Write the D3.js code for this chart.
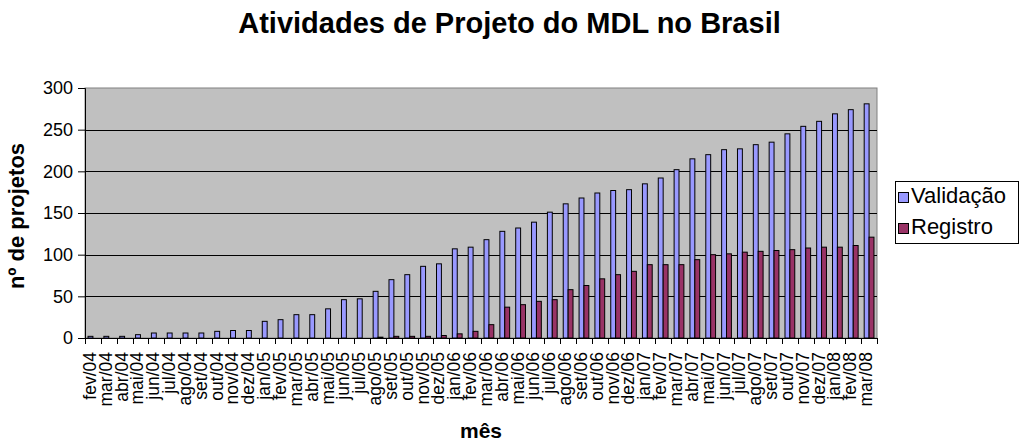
<!DOCTYPE html>
<meta charset="utf-8">
<html>
<head>
  <title>Atividades de Projeto do MDL no Brasil</title>
  <script src="https://cdn.jsdelivr.net/npm/d3@7"></script>
  <style>
    body { margin: 0; background: #fff; }
    svg { display: block; font-family: "Liberation Sans", Arial, sans-serif; }
  </style>
</head>
<body>
  <svg id="svg" width="1019" height="443"></svg>
  <script>
    // months on the x axis
    var months = ["fev/04", "mar/04", "abr/04", "mai/04", "jun/04", "jul/04", "ago/04", "set/04",
      "out/04", "nov/04", "dez/04", "jan/05", "fev/05", "mar/05", "abr/05", "mai/05", "jun/05",
      "jul/05", "ago/05", "set/05", "out/05", "nov/05", "dez/05", "jan/06", "fev/06", "mar/06",
      "abr/06", "mai/06", "jun/06", "jul/06", "ago/06", "set/06", "out/06", "nov/06", "dez/06",
      "jan/07", "fev/07", "mar/07", "abr/07", "mai/07", "jun/07", "jul/07", "ago/07", "set/07",
      "out/07", "nov/07", "dez/07", "jan/08", "fev/08", "mar/08"];

    // projects in validation (cumulative)
    var validacao = [2, 2, 2, 4, 6, 6, 6, 6, 8, 9, 9, 20, 22, 28, 28, 35, 46, 47, 56, 70, 76, 86, 89,
      107, 109, 118, 128, 132, 139, 151, 161, 168, 174, 177, 178, 185, 192, 202, 215, 220, 226,
      227, 232, 235, 245, 254, 260, 269, 274, 281];

    // registered projects (null = no value that month)
    var registro = [null, null, null, null, null, null, null, null, null, null, null, 0, 0, 0, 0,
      0, 0, 0, 1, 2, 2, 2, 3, 5, 8, 16, 37, 40, 44, 46, 58, 63, 71, 76, 80, 88, 88, 88, 94, 100,
      101, 103, 104, 105, 106, 108, 109, 109, 111, 121];

    var seriesNames = ["Validação", "Registro"];
    var seriesColors = ["#9999ff", "#993366"];
    var yTicks = [0, 50, 100, 150, 200, 250, 300];

    var plot = { left: 85, right: 877, top: 88, bottom: 338 };

    var svg = d3.select("#svg");

    var x = d3.scaleBand()
      .domain(months)
      .range([plot.left, plot.right])
      .padding(0);

    var xSub = d3.scaleBand()
      .domain(seriesNames)
      .range([0, x.bandwidth()])
      .paddingInner(0)
      .paddingOuter(0.62);

    var y = d3.scaleLinear()
      .domain([0, 300])
      .range([plot.bottom, plot.top]);

    // plot area background
    svg.append("rect")
      .attr("x", plot.left)
      .attr("y", plot.top)
      .attr("width", plot.right - plot.left)
      .attr("height", plot.bottom - plot.top)
      .attr("fill", "#c0c0c0")
      .attr("stroke", "#808080")
      .attr("stroke-width", 1);

    // gridlines
    svg.append("g")
      .selectAll("line")
      .data(yTicks.filter(function (t) { return t > 0 && t < 300; }))
      .enter()
      .append("line")
      .attr("x1", plot.left)
      .attr("x2", plot.right)
      .attr("y1", function (d) { return Math.round(y(d)) + 0.5; })
      .attr("y2", function (d) { return Math.round(y(d)) + 0.5; })
      .attr("stroke", "#000")
      .attr("stroke-width", 1);

    // bars
    var rows = months.map(function (m, i) {
      return { month: m, values: [validacao[i], registro[i]] };
    });

    var groups = svg.append("g")
      .selectAll("g")
      .data(rows)
      .enter()
      .append("g")
      .attr("transform", function (d) { return "translate(" + x(d.month) + ",0)"; });

    groups.selectAll("rect")
      .data(function (d) {
        return d.values.map(function (v, j) { return { name: seriesNames[j], value: v, j: j }; })
          .filter(function (e) { return e.value !== null; });
      })
      .enter()
      .append("rect")
      .attr("x", function (d) { return xSub(d.name); })
      .attr("y", function (d) { return y(d.value); })
      .attr("width", xSub.bandwidth())
      .attr("height", function (d) { return y(0) - y(d.value); })
      .attr("fill", function (d) { return seriesColors[d.j]; })
      .attr("stroke", "#000")
      .attr("stroke-width", 1);

    // y axis
    var yAxis = d3.axisLeft(y)
      .tickValues(yTicks)
      .tickSize(7)
      .tickPadding(5);

    var gy = svg.append("g")
      .attr("transform", "translate(" + plot.left + ",0)")
      .call(yAxis);
    gy.select(".domain").attr("stroke", "#000");
    gy.selectAll("line").attr("stroke", "#000");
    gy.selectAll("text")
      .attr("font-size", "18px")
      .attr("font-family", "'Liberation Sans', Arial, sans-serif")
      .attr("fill", "#000");

    // x axis: ticks at category boundaries
    var gx = svg.append("g");
    gx.append("line")
      .attr("x1", plot.left)
      .attr("x2", plot.right)
      .attr("y1", plot.bottom + 0.5)
      .attr("y2", plot.bottom + 0.5)
      .attr("stroke", "#000");

    gx.selectAll(".tick")
      .data(months.concat(["end"]))
      .enter()
      .append("line")
      .attr("class", "tick")
      .attr("x1", function (d, i) { return Math.round(plot.left + i * x.step()) + 0.5; })
      .attr("x2", function (d, i) { return Math.round(plot.left + i * x.step()) + 0.5; })
      .attr("y1", plot.bottom)
      .attr("y2", plot.bottom + 6)
      .attr("stroke", "#000");

    gx.selectAll(".lbl")
      .data(months)
      .enter()
      .append("text")
      .attr("class", "lbl")
      .attr("transform", function (d) {
        return "translate(" + (x(d) + x.bandwidth() / 2 + 3) + "," + 352 + ") rotate(-90)";
      })
      .attr("text-anchor", "end")
      .attr("font-size", "17.5px")
      .text(function (d) { return d; });

    // titles
    svg.append("text")
      .attr("x", 509.5)
      .attr("y", 33)
      .attr("text-anchor", "middle")
      .attr("font-size", "29px")
      .attr("font-weight", "bold")
      .text("Atividades de Projeto do MDL no Brasil");

    svg.append("text")
      .attr("x", (plot.left + plot.right) / 2)
      .attr("y", 438)
      .attr("text-anchor", "middle")
      .attr("font-size", "21px")
      .attr("font-weight", "bold")
      .text("mês");

    svg.append("text")
      .attr("transform", "translate(24,216) rotate(-90)")
      .attr("text-anchor", "middle")
      .attr("font-size", "22px")
      .attr("font-weight", "bold")
      .text("nº de projetos");

    // legend
    var legend = svg.append("g").attr("transform", "translate(895,181)");
    legend.append("rect")
      .attr("x", 0.5)
      .attr("y", 0.5)
      .attr("width", 123)
      .attr("height", 62)
      .attr("fill", "#fff")
      .attr("stroke", "#000");

    var items = legend.selectAll(".item")
      .data(seriesNames)
      .enter()
      .append("g")
      .attr("class", "item")
      .attr("transform", function (d, i) { return "translate(0," + (i * 31) + ")"; });

    items.append("rect")
      .attr("x", 3.5)
      .attr("y", 11.5)
      .attr("width", 10)
      .attr("height", 10)
      .attr("fill", function (d, i) { return seriesColors[i]; })
      .attr("stroke", "#000");

    items.append("text")
      .attr("x", 16)
      .attr("y", 22)
      .attr("font-size", "22px")
      .text(function (d) { return d; });
  </script>
</body>
</html>
